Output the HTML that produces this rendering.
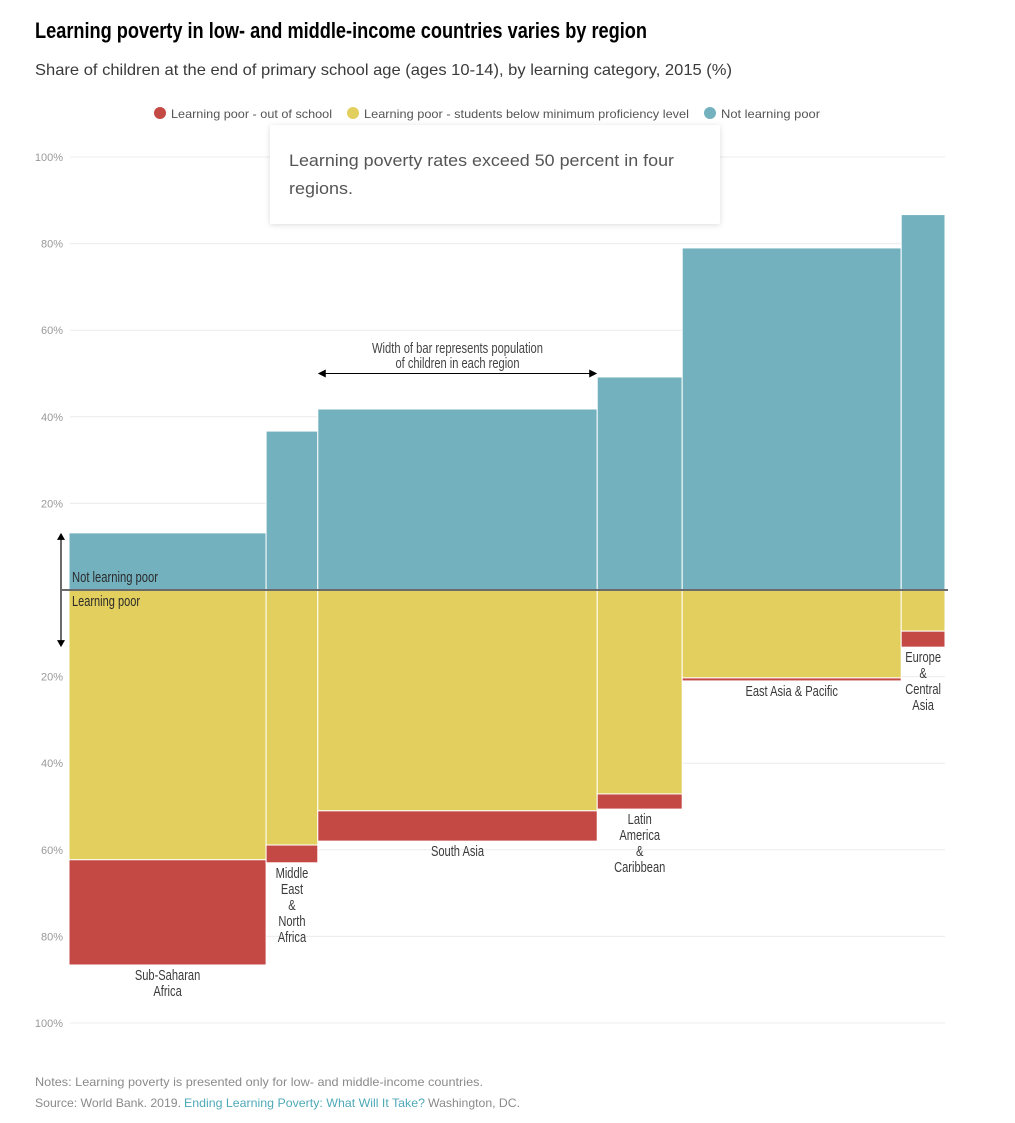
<!DOCTYPE html>
<html lang="en">
<head>
<meta charset="utf-8">
<title>Learning poverty by region</title>
<style>
html,body{margin:0;padding:0;background:#fff;}
svg{display:block;}
text{font-family:"Liberation Sans",sans-serif;}
</style>
</head>
<body>
<svg id="chart" xmlns="http://www.w3.org/2000/svg" width="1015" height="1123" viewBox="0 0 1015 1123">
  <text x="35" y="38" font-size="22" font-weight="700" fill="#000" textLength="612" lengthAdjust="spacingAndGlyphs">Learning poverty in low- and middle-income countries varies by region</text>
  <text x="35" y="75" font-size="16" fill="#3a3a3a" textLength="697" lengthAdjust="spacingAndGlyphs">Share of children at the end of primary school age (ages 10-14), by learning category, 2015 (%)</text>

  <g>
    <g>
      <circle cx="160" cy="113" r="6" fill="#c44844"></circle>
      <text x="171" y="118" font-size="12" fill="#555" textLength="161" lengthAdjust="spacingAndGlyphs">Learning poor - out of school</text>
    </g>
    <g>
      <circle cx="353" cy="113" r="6" fill="#e2cf5d"></circle>
      <text x="364" y="118" font-size="12" fill="#555" textLength="325" lengthAdjust="spacingAndGlyphs">Learning poor - students below minimum proficiency level</text>
    </g>
    <g>
      <circle cx="710" cy="113" r="6" fill="#73b1bf"></circle>
      <text x="721" y="118" font-size="12" fill="#555" textLength="99" lengthAdjust="spacingAndGlyphs">Not learning poor</text>
    </g>
  </g>

  <g id="grid"></g>
  <g id="ticks"></g>

  <g>
    <rect x="270" y="125" width="450" height="99" rx="2" fill="#fff" style="filter:drop-shadow(0 1px 3px rgba(0,0,0,.14))"></rect>
    <text x="289" y="166" font-size="17" fill="#555" textLength="385" lengthAdjust="spacingAndGlyphs">Learning poverty rates exceed 50 percent in four</text>
    <text x="289" y="194" font-size="17" fill="#555" textLength="64" lengthAdjust="spacingAndGlyphs">regions.</text>
  </g>

  <g id="bars"></g>
  <g id="labels"></g>
  <g id="annotations"></g>

  <text x="35" y="1086" font-size="12" fill="#8a8a8a" textLength="448" lengthAdjust="spacingAndGlyphs">Notes: Learning poverty is presented only for low- and middle-income countries.</text>
  <text x="35" y="1107" font-size="12" fill="#8a8a8a" textLength="146" lengthAdjust="spacingAndGlyphs">Source: World Bank. 2019.</text>
  <a href="#"><text x="184" y="1107" font-size="12" fill="#4fa9b8" textLength="241" lengthAdjust="spacingAndGlyphs">Ending Learning Poverty: What Will It Take?</text></a>
  <text x="428" y="1107" font-size="12" fill="#8a8a8a" textLength="92" lengthAdjust="spacingAndGlyphs">Washington, DC.</text>
</svg>

<script>
const regionLines = [
  ['Sub-Saharan', 'Africa'],
  ['Middle', 'East', '&', 'North', 'Africa'],
  ['South Asia'],
  ['Latin', 'America', '&', 'Caribbean'],
  ['East Asia & Pacific'],
  ['Europe', '&', 'Central', 'Asia']
];
const populationShare = [22.5, 5.9, 31.9, 9.7, 25.0, 5.0];
const notLearningPoor = [13.2, 36.7, 41.8, 49.2, 79.0, 86.7];
const belowProficiency = [62.3, 58.9, 51.0, 47.1, 20.3, 9.5];
const outOfSchool = [24.3, 4.1, 7.0, 3.5, 0.7, 3.7];
const tickValues = [100, 80, 60, 40, 20];

const NS = 'http://www.w3.org/2000/svg';
const xLeft = 69, xRight = 945, zeroY = 590, pxPerPct = 4.33;
const totalShare = populationShare.reduce((a, b) => a + b, 0);
const xScale = s => xLeft + (s / totalShare) * (xRight - xLeft);
const yUp = v => zeroY - v * pxPerPct;
const yDown = v => zeroY + v * pxPerPct;

function make(tag, parent, attrs) {
  const el = document.createElementNS(NS, tag);
  for (const k in attrs) el.setAttribute(k, attrs[k]);
  parent.appendChild(el);
  return el;
}
function condense(el, ratio) {
  const natural = el.getComputedTextLength();
  el.setAttribute('textLength', (natural * ratio).toFixed(1));
  el.setAttribute('lengthAdjust', 'spacingAndGlyphs');
}

const grid = document.getElementById('grid');
const ticks = document.getElementById('ticks');
tickValues.forEach(v => {
  [yUp(v), yDown(v)].forEach(y => {
    const line = make('line', grid, {x1: 70, x2: xRight, y1: y, y2: y, stroke: '#ececec', 'stroke-width': 1});
    
    
    const t = make('text', ticks, {x: 63, y: y + 4, 'font-size': 11, fill: '#999', 'text-anchor': 'end'});
    
    
    t.textContent = v + '%';
  });
});

const bars = document.getElementById('bars');
const labels = document.getElementById('labels');
let cumulative = 0;
regionLines.forEach((lines, i) => {
  const x0 = xScale(cumulative);
  cumulative += populationShare[i];
  const x1 = xScale(cumulative);
  const w = x1 - x0;
  const top = yUp(notLearningPoor[i]);
  const mid = yDown(belowProficiency[i]);
  const bottom = yDown(belowProficiency[i] + outOfSchool[i]);

  const blue = make('rect', bars, {x: x0, y: top, width: w, height: zeroY - top, fill: '#73b1bf', stroke: '#fff', 'stroke-width': 1});
  
  
  const yellow = make('rect', bars, {x: x0, y: zeroY, width: w, height: mid - zeroY, fill: '#e2cf5d', stroke: '#fff', 'stroke-width': 1});
  
  
  const red = make('rect', bars, {x: x0, y: mid, width: w, height: bottom - mid, fill: '#c44844', stroke: '#fff', 'stroke-width': 1});
  
  

  lines.forEach((line, j) => {
    const t = make('text', labels, {x: (x0 + x1) / 2, y: bottom + 15 + j * 16, 'font-size': 15, fill: '#3a3a3a', 'text-anchor': 'middle'});
    
    
    t.textContent = line;
    condense(t, 0.74);
  });
});

const ann = document.getElementById('annotations');
const baseline = make('line', ann, {x1: 61, x2: 948, y1: zeroY, y2: zeroY, stroke: '#6b6b6b', 'stroke-width': 2});



const axisArrowReach = notLearningPoor[0];
const axisTop = yUp(axisArrowReach), axisBottom = yDown(axisArrowReach);
const axisShaft = make('line', ann, {x1: 61, x2: 61, y1: axisTop + 4, y2: axisBottom - 4, stroke: '#6b6b6b', 'stroke-width': 2});


const upHead = make('polygon', ann, {points: `61,${axisTop} 57,${axisTop + 7} 65,${axisTop + 7}`, fill: '#000'});


const downHead = make('polygon', ann, {points: `61,${axisBottom} 57,${axisBottom - 7} 65,${axisBottom - 7}`, fill: '#000'});



const notPoorLabel = make('text', ann, {x: 72, y: 582, 'font-size': 15, fill: '#2a2a2a'});


notPoorLabel.textContent = 'Not learning poor';
notPoorLabel.setAttribute('textLength', '86');
notPoorLabel.setAttribute('lengthAdjust', 'spacingAndGlyphs');
const poorLabel = make('text', ann, {x: 72, y: 606, 'font-size': 15, fill: '#2a2a2a'});


poorLabel.textContent = 'Learning poor';
poorLabel.setAttribute('textLength', '68');
poorLabel.setAttribute('lengthAdjust', 'spacingAndGlyphs');

const spanStart = xScale(populationShare[0] + populationShare[1]);
const spanEnd = xScale(populationShare[0] + populationShare[1] + populationShare[2]);
const spanMid = (spanStart + spanEnd) / 2;
const spanY = yUp(50);
const hShaft = make('line', ann, {x1: spanStart + 4, x2: spanEnd - 4, y1: spanY, y2: spanY, stroke: '#000', 'stroke-width': 1});


const leftHead = make('polygon', ann, {points: `${spanStart},${spanY} ${spanStart + 8},${spanY - 4} ${spanStart + 8},${spanY + 4}`, fill: '#000'});


const rightHead = make('polygon', ann, {points: `${spanEnd},${spanY} ${spanEnd - 8},${spanY - 4} ${spanEnd - 8},${spanY + 4}`, fill: '#000'});


const widthNote1 = make('text', ann, {x: spanMid, y: 353, 'font-size': 15, fill: '#444', 'text-anchor': 'middle', textLength: 171, lengthAdjust: 'spacingAndGlyphs'});


widthNote1.textContent = 'Width of bar represents population';
const widthNote2 = make('text', ann, {x: spanMid, y: 368, 'font-size': 15, fill: '#444', 'text-anchor': 'middle', textLength: 124, lengthAdjust: 'spacingAndGlyphs'});


widthNote2.textContent = 'of children in each region';
</script>
</body>
</html>
